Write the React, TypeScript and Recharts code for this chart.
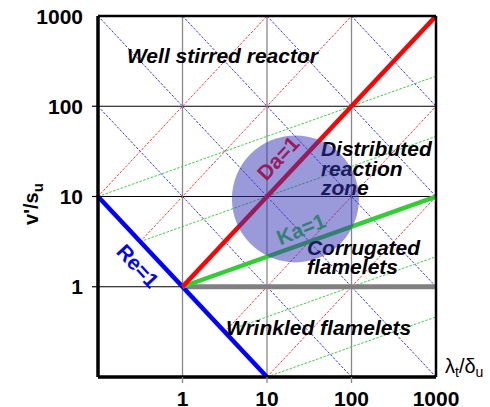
import React from "react";
import { ComposedChart, Line, Scatter, XAxis, YAxis, CartesianGrid, ReferenceLine } from "recharts";

const FONT = "'Liberation Sans', Arial, sans-serif";

// axis ticks (log-log, both axes 0.1 .. 1000)
const xTicks = [1, 10, 100, 1000];
const yTicks = [1, 10, 100, 1000];

// regime boundaries, [x, y] end points
const da1Line = [[1, 1], [1000, 1000]];
const ka1Line = [[1, 1], [1000, 10]];
const re1Line = [[0.1, 10], [10, 0.1]];
const flameLine = [[1, 1], [1000, 1]];

// thin iso-lines: Re = 10 .. 1e5
const reIso = [
  [[0.1, 100], [100, 0.1]],
  [[0.1, 1000], [1000, 0.1]],
  [[1, 1000], [1000, 1]],
  [[10, 1000], [1000, 10]],
  [[100, 1000], [1000, 100]],
];
// Da = 0.01 .. 100
const daIso = [
  [[0.1, 10], [10, 1000]],
  [[0.316, 3.16], [100, 1000]],
  [[3.16, 0.316], [1000, 100]],
  [[10, 0.1], [1000, 10]],
];
// Ka = 100, 10, 0.1, 0.01
const kaIso = [
  [[0.1, 10], [1000, 215.4]],
  [[0.316, 3.16], [1000, 46.4]],
  [[3.16, 0.316], [1000, 2.154]],
  [[10, 0.1], [1000, 0.464]],
];

// regime names
const regionText = [["Well stirred reactor"], ["Distributed", "reaction", "zone"], ["Corrugated", "flamelets"], ["Wrinkled flamelets"]];
const regionX = [0.22, 43.5, 29.7, 3.27];
const regionY = [301, 28.1, 2.25, 0.292];

// line labels
const lineText = ["Da=1", "Ka=1", "Re=1"];
const lineX = [13.5, 25.2, 0.297];
const lineY = [26.7, 4.37, 1.7];
const lineColor = ["#ff0000", "#33cc33", "#0000ff"];
const lineAngle = [-47, -22, 47];

// highlighted zone
const zoneCenter = [{ x: 21.7, y: 9.4 }];

const toPts = (seg: number[][]) => seg.map(([x, y]) => ({ x, y }));

const regionData = regionText.map((lines, i) => ({ x: regionX[i], y: regionY[i], lines }));
const lineLabelData = lineText.map((t, i) => ({ x: lineX[i], y: lineY[i], t, color: lineColor[i], angle: lineAngle[i] }));

const XTick = ({ x, y, payload }: any) => (
  <g>
    {payload.value < 1000 && <line x1={x} x2={x} y1={y} y2={y + 6} stroke="#888" strokeWidth={1.3} />}
    <text x={x} y={y + 28.5} textAnchor="middle" fontSize={21} fontWeight="bold" fontFamily={FONT} fill="#000">
      {payload.value}
    </text>
  </g>
);

const YTick = ({ x, y, payload }: any) => (
  <g>
    {payload.value < 1000 && <line x1={x - 6} x2={x} y1={y} y2={y} stroke="#000" strokeWidth={1.2} />}
    <text x={x - 15} y={y + 7.5} textAnchor="end" fontSize={21} fontWeight="bold" fontFamily={FONT} fill="#000">
      {payload.value}
    </text>
  </g>
);

const RegionLabel = ({ cx, cy, payload }: any) => (
  <text x={cx} y={cy} fontSize={21} fontWeight="bold" fontStyle="italic" fontFamily={FONT} fill="#000">
    {payload.lines.map((s: string, i: number) => (
      <tspan key={i} x={cx} dy={i === 0 ? 0 : 19.5}>{s}</tspan>
    ))}
  </text>
);

const LineLabel = ({ cx, cy, payload }: any) => (
  <text
    x={cx}
    y={cy}
    textAnchor="middle"
    dominantBaseline="central"
    transform={`rotate(${payload.angle} ${cx} ${cy})`}
    fontSize={21}
    fontWeight="bold"
    fontFamily={FONT}
    fill={payload.color}
  >
    {payload.t}
  </text>
);

const Zone = ({ cx, cy }: any) => <circle cx={cx} cy={cy} r={63.5} fill="#3535b5" fillOpacity={0.5} />;

const YLabel = ({ viewBox }: any) => {
  const cx = viewBox.x + 38;
  const cy = 204;
  return (
    <text x={cx} y={cy} textAnchor="middle" transform={`rotate(-90 ${cx} ${cy})`} fontSize={20} fontWeight="bold" fontFamily={FONT} fill="#000">
      v'/s<tspan dy={5} fontSize={15}>u</tspan>
    </text>
  );
};

const XLabel = ({ viewBox }: any) => {
  const x = viewBox.x + viewBox.width + 9;
  const y = viewBox.y - 4;
  return (
    <text x={x} y={y} fontSize={20} fontFamily={FONT} fill="#000">
      λ<tspan dy={4} fontSize={14}>t</tspan>
      <tspan dy={-4}>/δ</tspan>
      <tspan dy={4} fontSize={14}>u</tspan>
    </text>
  );
};

export default function App() {
  return (
    <div style={{ position: "absolute", left: 0, top: 0, background: "#fff" }}>
      <ComposedChart width={490} height={407} margin={{ top: 16, right: 54, bottom: 0, left: 0 }}>
        <CartesianGrid vertical={false} stroke="#000" strokeWidth={1.2} />
        <CartesianGrid horizontal={false} stroke="#888" strokeWidth={1.3} />
        <XAxis
          dataKey="x"
          type="number"
          scale="log"
          domain={[0.1, 1000]}
          allowDataOverflow
          ticks={xTicks}
          height={30}
          tickSize={0}
          tickMargin={0}
          tick={<XTick />}
          axisLine={{ stroke: "#000", strokeWidth: 3.5 }}
          label={{ content: XLabel }}
        />
        <YAxis
          dataKey="y"
          type="number"
          scale="log"
          domain={[0.1, 1000]}
          allowDataOverflow
          ticks={yTicks}
          width={98}
          tickSize={0}
          tickMargin={0}
          tick={<YTick />}
          axisLine={{ stroke: "#000", strokeWidth: 3.5 }}
          label={{ content: YLabel }}
        />

        {reIso.map((seg, i) => (
          <Line key={`re${i}`} data={toPts(seg)} dataKey="y" stroke="#3333ff" strokeWidth={1} strokeDasharray="2.5 1.5" dot={false} activeDot={false} isAnimationActive={false} />
        ))}
        {daIso.map((seg, i) => (
          <Line key={`da${i}`} data={toPts(seg)} dataKey="y" stroke="#ff3333" strokeWidth={1} strokeDasharray="2.5 1.5" dot={false} activeDot={false} isAnimationActive={false} />
        ))}
        {kaIso.map((seg, i) => (
          <Line key={`ka${i}`} data={toPts(seg)} dataKey="y" stroke="#44cc44" strokeWidth={1} strokeDasharray="2.5 1.5" dot={false} activeDot={false} isAnimationActive={false} />
        ))}

        <Line data={toPts(flameLine)} dataKey="y" stroke="#808080" strokeWidth={5} dot={false} activeDot={false} isAnimationActive={false} />
        <Line data={toPts(re1Line)} dataKey="y" stroke="#0000ff" strokeWidth={4.5} dot={false} activeDot={false} isAnimationActive={false} />
        <Line data={toPts(ka1Line)} dataKey="y" stroke="#33cc33" strokeWidth={4.5} dot={false} activeDot={false} isAnimationActive={false} />
        <Line data={toPts(da1Line)} dataKey="y" stroke="#ff0000" strokeWidth={4.5} dot={false} activeDot={false} isAnimationActive={false} />

        <Scatter data={regionData} dataKey="y" shape={RegionLabel} isAnimationActive={false} />
        <Scatter data={lineLabelData} dataKey="y" shape={LineLabel} isAnimationActive={false} />
        <Scatter data={zoneCenter} dataKey="y" shape={Zone} isAnimationActive={false} />

        <ReferenceLine y={1000} stroke="#000" strokeWidth={2.5} />
        <ReferenceLine x={1000} stroke="#000" strokeWidth={2.5} />
      </ComposedChart>
    </div>
  );
}
